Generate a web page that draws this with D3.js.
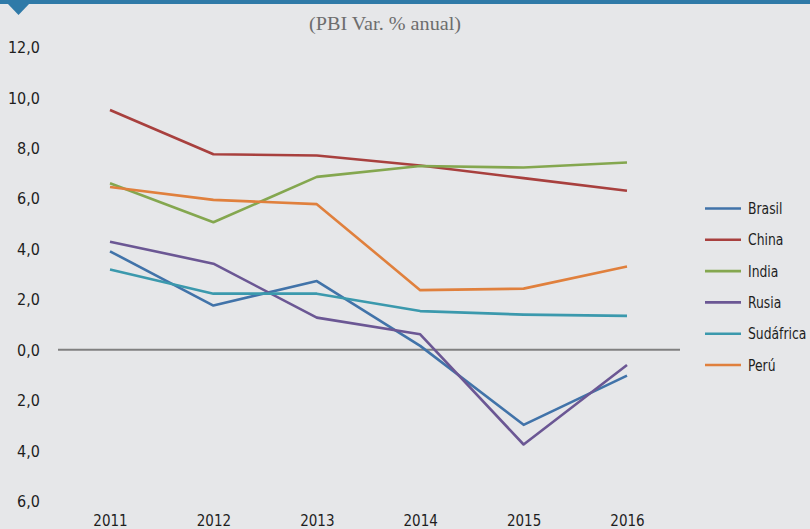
<!DOCTYPE html>
<html><head><meta charset="utf-8">
<script src="https://cdn.jsdelivr.net/npm/d3@7"></script>
<style>html,body{margin:0;padding:0;background:#e6e7e9;}svg{display:block;}</style>
</head><body>
<svg id="c" width="810" height="529"></svg>
<script>
const years = ["2011","2012","2013","2014","2015","2016"];
const seriesNames = ["Brasil","China","India","Rusia","Sudáfrica","Perú"];
const brasil = [3.9, 1.75, 2.72, 0.15, -2.98, -1.03];
const china = [9.5, 7.75, 7.7, 7.3, 6.8, 6.3];
const india = [6.6, 5.05, 6.85, 7.28, 7.22, 7.42];
const rusia = [4.28, 3.41, 1.27, 0.61, -3.76, -0.61];
const sudafrica = [3.18, 2.22, 2.22, 1.53, 1.39, 1.34];
const peru = [6.45, 5.94, 5.77, 2.36, 2.42, 3.3];
const colors = ["#4173a9","#a8403e","#84a74f","#6b5794","#3b99ad","#e0803d"];
const yTicks = [12,10,8,6,4,2,0,-2,-4,-6];
const title = "(PBI Var. % anual)";

const seriesVals = [brasil, china, india, rusia, sudafrica, peru];
const svg = d3.select("#c");
svg.append("rect").attr("width",810).attr("height",529).attr("fill","#e6e7e9");
svg.append("rect").attr("x",0).attr("y",0).attr("width",810).attr("height",4).attr("fill","#2f7aa8");
svg.append("path").attr("d","M7,3 L30,3 L18.5,15 Z").attr("fill","#2f7aa8");

svg.append("text").attr("x",385).attr("y",30).attr("text-anchor","middle")
  .attr("font-family","'Liberation Serif','DejaVu Serif',serif").attr("font-size",18.5)
  .attr("textLength",152).attr("lengthAdjust","spacingAndGlyphs")
  .attr("fill","#6d6d6d").text(title);

const x = d3.scalePoint().domain(years).range([110,627]);
const y = d3.scaleLinear().domain([-6,12]).range([501,47]);

const tickFont = "'DejaVu Sans Condensed',sans-serif";
const yAxis = svg.append("g").attr("transform","translate(40,0)")
  .call(d3.axisLeft(y).tickValues(yTicks).tickSize(0).tickPadding(0)
    .tickFormat(d => Math.abs(d).toFixed(1).replace(".",",")));
yAxis.select(".domain").remove();
yAxis.selectAll("text").attr("font-family",tickFont).attr("font-size",16).attr("fill","#1e1e1e").attr("dy","0.35em");

const xAxis = svg.append("g").attr("transform","translate(0,526)")
  .call(d3.axisBottom(x).tickSize(0).tickPadding(0));
xAxis.select(".domain").remove();
xAxis.selectAll("text").attr("font-family",tickFont).attr("font-size",15).attr("fill","#1e1e1e").attr("dy","0");

svg.append("line").attr("x1",58).attr("x2",680).attr("y1",y(0)).attr("y2",y(0))
  .attr("stroke","#808080").attr("stroke-width",2);

const line = d3.line().x((d,i)=>x(years[i])).y(d=>y(d));
seriesVals.forEach((vals,i)=>{
  svg.append("path").datum(vals).attr("d",line).attr("fill","none")
    .attr("stroke",colors[i]).attr("stroke-width",2.6).attr("stroke-linejoin","round");
});

const lg = svg.append("g");
seriesNames.forEach((n,i)=>{
  const ly = 208.5 + i*31.3;
  lg.append("line").attr("x1",705).attr("x2",741).attr("y1",ly).attr("y2",ly)
    .attr("stroke",colors[i]).attr("stroke-width",2.6);
  lg.append("text").attr("transform",`translate(748,${ly}) scale(0.86,1)`).attr("dy","0.35em")
    .attr("font-family",tickFont).attr("font-size",16).attr("fill","#1e1e1e").text(n);
});
</script>
</body></html>
